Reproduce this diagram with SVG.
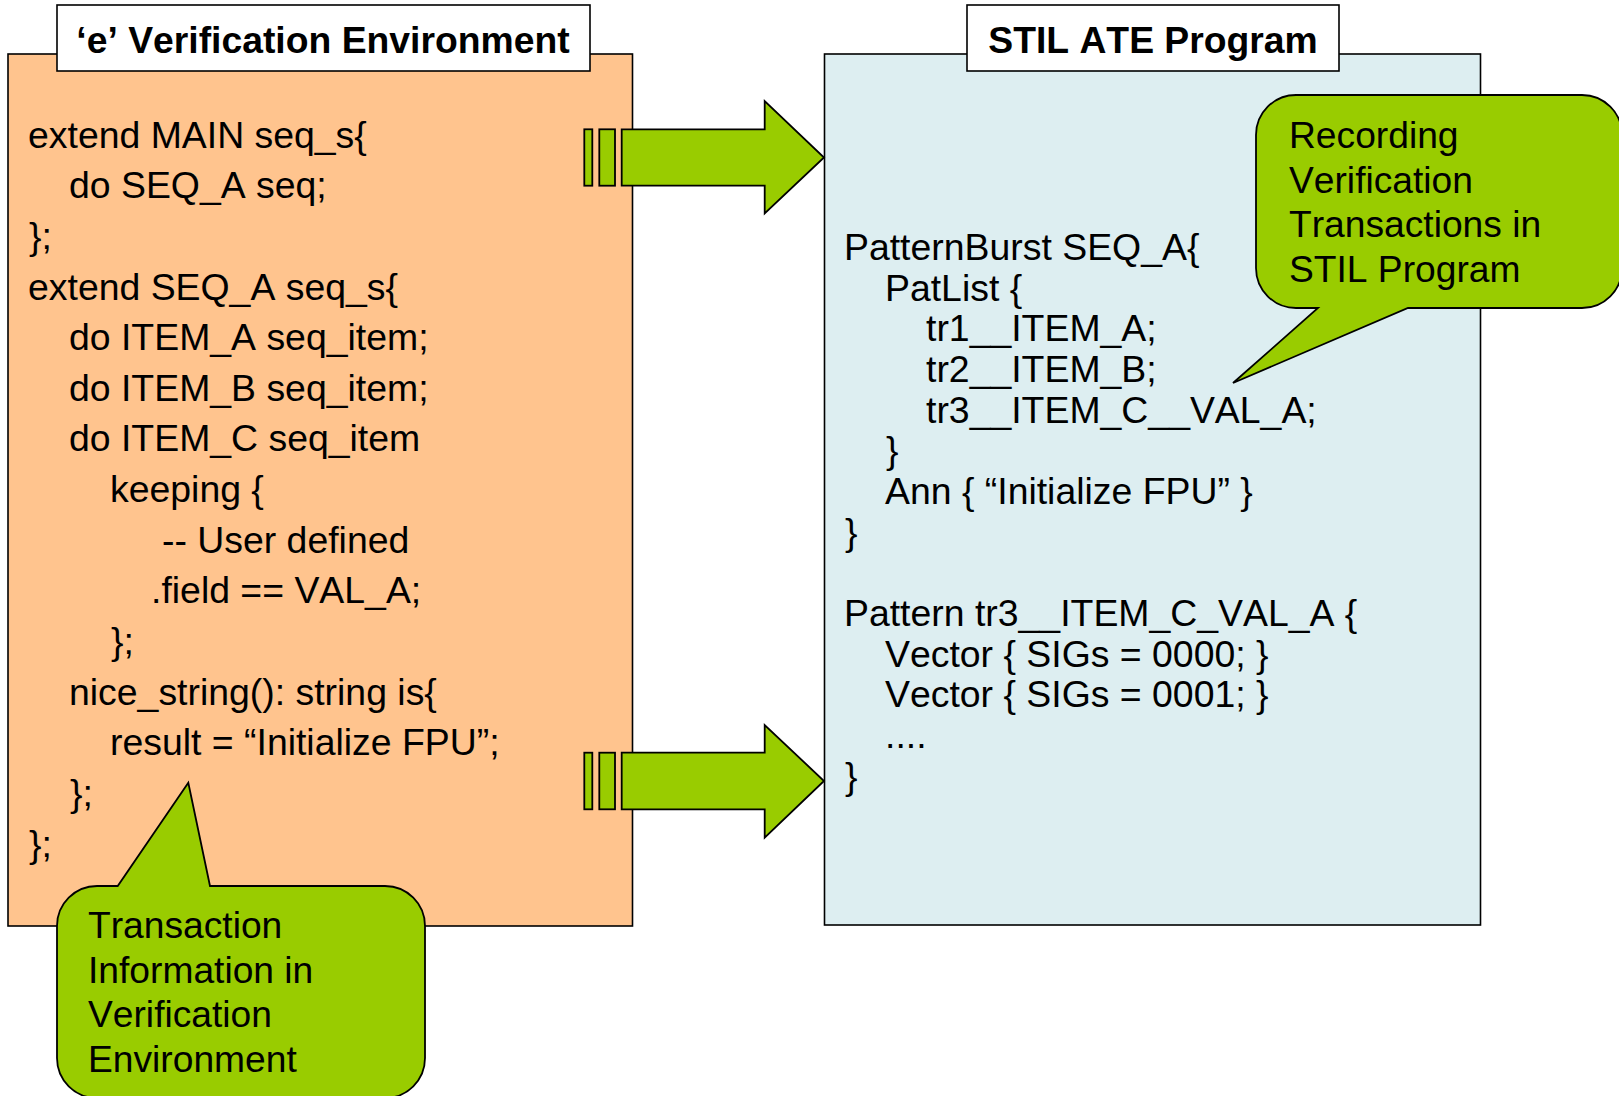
<svg xmlns="http://www.w3.org/2000/svg" width="1619" height="1096" viewBox="0 0 1619 1096">
  <style>
    text { font-kerning: none; }
    .box { stroke: #000; stroke-width: 1.6; }
    .env { fill: #FFC48E; }
    .ate { fill: #DDEEF1; }
    .title-bg { fill: #fff; stroke: #000; stroke-width: 1.6; }
    .title { font-family: "Liberation Sans", Arial, sans-serif; font-size: 37.3px; font-weight: bold; text-anchor: middle; fill: #000; }
    .code { font-family: "Liberation Sans", Arial, sans-serif; font-size: 37.4px; fill: #000; }
    .note { font-family: "Liberation Sans", Arial, sans-serif; font-size: 37.2px; fill: #000; }
    .green { fill: #99CC00; stroke: #000; stroke-width: 1.8; stroke-linejoin: miter; }
  </style>

  <!-- e verification environment -->
  <g id="e-env">
    <rect class="box env" x="8" y="54" width="624.5" height="872"/>
    <rect class="title-bg" x="57" y="5" width="533" height="66"/>
    <text class="title" x="323" y="53">‘e’ Verification Environment</text>
    <g class="code">
      <text x="28" y="147.5">extend MAIN seq_s{</text>
      <text x="69" y="198.2">do SEQ_A seq;</text>
      <text x="29" y="248.8">};</text>
      <text x="28" y="299.5">extend SEQ_A seq_s{</text>
      <text x="69" y="350.1">do ITEM_A seq_item;</text>
      <text x="69" y="400.8">do ITEM_B seq_item;</text>
      <text x="69" y="451.4">do ITEM_C seq_item</text>
      <text x="110" y="502.1">keeping {</text>
      <text x="162" y="552.7">-- User defined</text>
      <text x="151" y="603.4">.field == VAL_A;</text>
      <text x="111" y="654">};</text>
      <text x="69" y="704.7">nice_string(): string is{</text>
      <text x="110" y="755.3">result = “Initialize FPU”;</text>
      <text x="70" y="806">};</text>
      <text x="29" y="856.6">};</text>
    </g>
  </g>

  <!-- STIL ATE program -->
  <g id="stil-ate">
    <rect class="box ate" x="824.5" y="54" width="656" height="871"/>
    <rect class="title-bg" x="967" y="5" width="372" height="66"/>
    <text class="title" x="1153" y="53">STIL ATE Program</text>
    <g class="code">
      <text x="844" y="260">PatternBurst SEQ_A{</text>
      <text x="885" y="300.6">PatList {</text>
      <text x="926" y="341.3">tr1__ITEM_A;</text>
      <text x="926" y="382">tr2__ITEM_B;</text>
      <text x="926" y="422.6">tr3__ITEM_C__VAL_A;</text>
      <text x="886" y="463.3">}</text>
      <text x="885" y="503.9">Ann { “Initialize FPU” }</text>
      <text x="845" y="544.6">}</text>
      <text x="844" y="625.9">Pattern tr3__ITEM_C_VAL_A {</text>
      <text x="885" y="666.5">Vector { SIGs = 0000; }</text>
      <text x="885" y="707.2">Vector { SIGs = 0001; }</text>
      <text x="885" y="747.8">....</text>
      <text x="845" y="788.5">}</text>
    </g>
  </g>

  <!-- striped block arrows from the environment to the program -->
  <g id="connectors">
    <g id="arrow-seq">
      <rect class="green" x="584.3" y="129.3" width="8" height="56.4"/>
      <rect class="green" x="599.3" y="129.3" width="15.7" height="56.4"/>
      <polygon class="green" points="621.7,129.3 764.7,129.3 764.7,101 824,157.5 764.7,213.3 764.7,185.7 621.7,185.7"/>
    </g>
    <g id="arrow-ann">
      <rect class="green" x="584.3" y="752.7" width="8" height="56.6"/>
      <rect class="green" x="599.3" y="752.7" width="15.7" height="56.6"/>
      <polygon class="green" points="621.7,752.7 764.7,752.7 764.7,725 824,781 764.7,837.7 764.7,809.3 621.7,809.3"/>
    </g>
  </g>

  <!-- callout: recording transactions -->
  <g id="note-recording">
    <path class="green" d="M1296,95 H1582 A40,40 0 0 1 1622,135 V268 A40,40 0 0 1 1582,308 H1408 L1233,383 L1318,308 H1296 A40,40 0 0 1 1256,268 V135 A40,40 0 0 1 1296,95 Z"/>
    <g class="note">
      <text x="1289" y="148">Recording</text>
      <text x="1289" y="192.7">Verification</text>
      <text x="1289" y="237.4">Transactions in</text>
      <text x="1289" y="282.1">STIL Program</text>
    </g>
  </g>

  <!-- callout: transaction information -->
  <g id="note-transaction">
    <path class="green" d="M97,886 H117.7 L188.3,782.7 L210,886 H385 A40,40 0 0 1 425,926 V1058 A40,40 0 0 1 385,1098 H97 A40,40 0 0 1 57,1058 V926 A40,40 0 0 1 97,886 Z"/>
    <g class="note">
      <text x="88" y="938">Transaction</text>
      <text x="88" y="982.7">Information in</text>
      <text x="88" y="1027.4">Verification</text>
      <text x="88" y="1072.1">Environment</text>
    </g>
  </g>
</svg>
